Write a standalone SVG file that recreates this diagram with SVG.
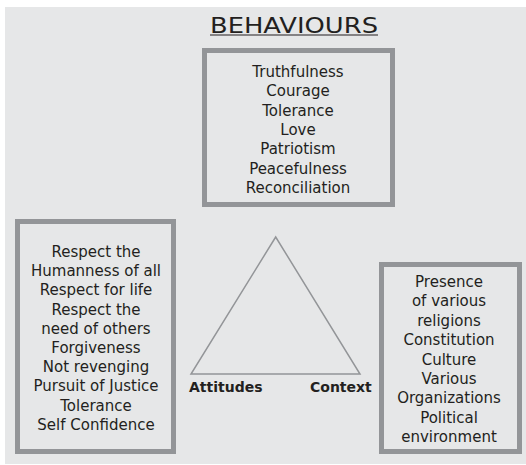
<svg xmlns="http://www.w3.org/2000/svg" width="526" height="465" viewBox="0 0 526 465">
<style>
.box{fill:none;stroke:#939598;stroke-width:5}
.t{font-family:"DejaVu Sans","Liberation Sans",sans-serif;font-size:15px;fill:#231f20;text-anchor:middle}
.b{font-family:"DejaVu Sans","Liberation Sans",sans-serif;font-weight:bold;font-size:14px;fill:#231f20}
.tri{fill:none;stroke:#939598;stroke-width:1.5}
</style>
<rect x="0" y="0" width="526" height="465" fill="#ffffff"/>
<rect x="5" y="7" width="521" height="457" fill="#e6e7e8"/>
<g id="title">
<text x="294" y="33" font-family="DejaVu Sans, Liberation Sans, sans-serif" font-size="22" fill="#231f20" textLength="168" lengthAdjust="spacingAndGlyphs" text-anchor="middle">BEHAVIOURS</text>
<line x1="210" y1="35" x2="378" y2="35" stroke="#231f20" stroke-width="1.2"/>
</g>
<g id="behaviours">
<rect class="box" x="204.5" y="50.5" width="188" height="154"/>
<text class="t" x="298" y="77">Truthfulness</text>
<text class="t" x="298" y="96.3">Courage</text>
<text class="t" x="298" y="115.6">Tolerance</text>
<text class="t" x="298" y="134.9">Love</text>
<text class="t" x="298" y="154.2">Patriotism</text>
<text class="t" x="298" y="173.5">Peacefulness</text>
<text class="t" x="298" y="192.8">Reconciliation</text>
</g>
<g id="attitudes-box">
<rect class="box" x="17.5" y="221.5" width="156" height="230"/>
<text class="t" x="96" y="257">Respect the</text>
<text class="t" x="96" y="276.2">Humanness of all</text>
<text class="t" x="96" y="295.4">Respect for life</text>
<text class="t" x="96" y="314.6">Respect the</text>
<text class="t" x="96" y="333.8">need of others</text>
<text class="t" x="96" y="353">Forgiveness</text>
<text class="t" x="96" y="372.2">Not revenging</text>
<text class="t" x="96" y="391.4">Pursuit of Justice</text>
<text class="t" x="96" y="410.6">Tolerance</text>
<text class="t" x="96" y="429.8">Self Confidence</text>
</g>
<g id="context-box">
<rect class="box" x="381.5" y="264.5" width="138" height="187"/>
<text class="t" x="449" y="287">Presence</text>
<text class="t" x="449" y="306.4">of various</text>
<text class="t" x="449" y="325.8">religions</text>
<text class="t" x="449" y="345.2">Constitution</text>
<text class="t" x="449" y="364.6">Culture</text>
<text class="t" x="449" y="384">Various</text>
<text class="t" x="449" y="403.4">Organizations</text>
<text class="t" x="449" y="422.8">Political</text>
<text class="t" x="449" y="442.2">environment</text>
</g>
<g id="connectors">
<polygon class="tri" points="275.7,237 191,374 360,374"/>
</g>
<g id="attitudes">
<text class="b" x="189" y="392">Attitudes</text>
</g>
<g id="context">
<text class="b" x="310" y="392">Context</text>
</g>
</svg>
